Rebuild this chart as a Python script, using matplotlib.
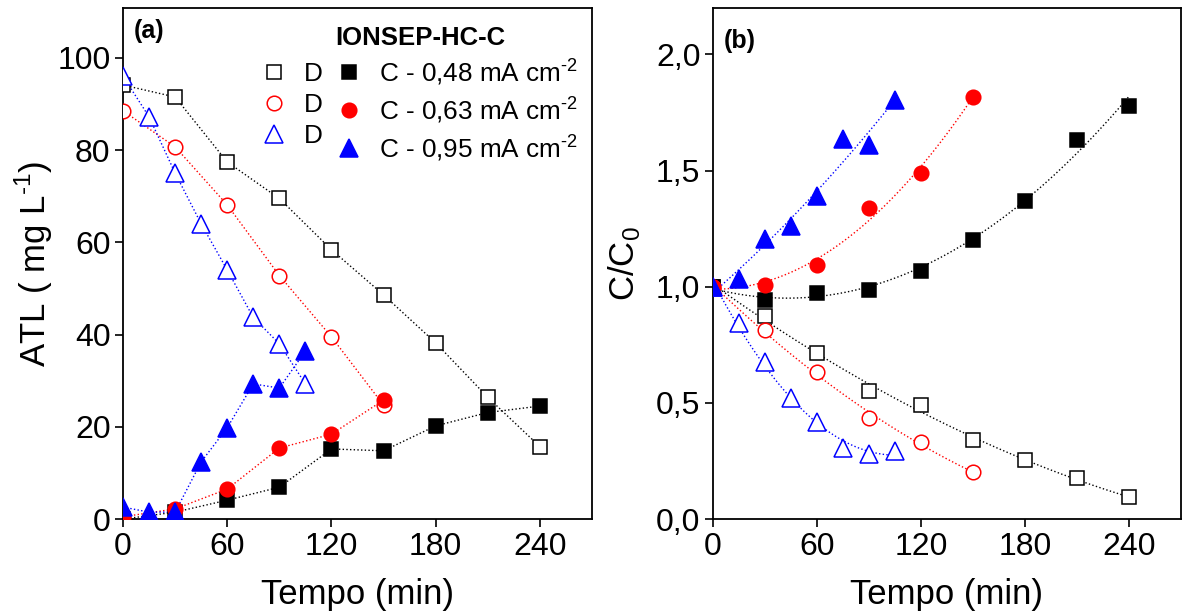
import numpy as np
import matplotlib
matplotlib.use("Agg")
import matplotlib.pyplot as plt
from matplotlib.lines import Line2D

plt.rcParams['font.family'] = ['Liberation Sans', 'DejaVu Sans']
plt.rcParams['mathtext.fontset'] = 'custom'
plt.rcParams['mathtext.rm'] = 'Liberation Sans'

# ---------------- data ----------------
t_048 = [0, 30, 60, 90, 120, 150, 180, 210, 240]
t_063 = [0, 30, 60, 90, 120, 150]
t_095 = [0, 15, 30, 45, 60, 75, 90, 105]

# (a) ATL (mg/L)
atl_D_048 = [94.1, 91.5, 77.4, 69.5, 58.4, 48.6, 38.2, 26.4, 15.7]
atl_C_048 = [0.0, 1.5, 4.1, 6.9, 15.2, 14.8, 20.2, 23.1, 24.5]
atl_D_063 = [88.5, 80.7, 68.1, 52.8, 39.5, 24.7]
atl_C_063 = [0.5, 2.2, 6.5, 15.4, 18.4, 25.8]
atl_D_095 = [96.0, 87.2, 75.0, 64.0, 54.0, 43.7, 38.0, 29.3]
atl_C_095 = [2.6, 1.5, 1.5, 12.4, 19.8, 29.3, 28.4, 36.4]

# (b) C/C0
cc_D_048 = [1.0, 0.875, 0.716, 0.552, 0.49, 0.34, 0.254, 0.175, 0.094]
cc_C_048 = [1.0, 0.943, 0.975, 0.986, 1.069, 1.202, 1.37, 1.633, 1.78]
cc_D_063 = [1.0, 0.813, 0.635, 0.434, 0.331, 0.203]
cc_C_063 = [1.0, 1.008, 1.093, 1.338, 1.491, 1.818]
cc_D_095 = [1.0, 0.846, 0.675, 0.522, 0.418, 0.308, 0.282, 0.294]
cc_C_095 = [1.0, 1.033, 1.205, 1.261, 1.39, 1.637, 1.611, 1.806]

legend_title = "IONSEP-HC-C"
legend_D = "D"
legend_C = ["C - 0,48 mA cm$^{\\text{-}2}$", "C - 0,63 mA cm$^{\\text{-}2}$", "C - 0,95 mA cm$^{\\text{-}2}$"]

xticks = [0, 60, 120, 180, 240]
yticks_a = [0, 20, 40, 60, 80, 100]
yticks_b = [0.0, 0.5, 1.0, 1.5, 2.0]
yticklabels_b = ["0,0", "0,5", "1,0", "1,5", "2,0"]

colors = ['black', 'red', 'blue']
markers = ['s', 'o', '^']
msizes = [9.5, 10.5, 12.5]

fig = plt.figure(figsize=(11.83, 6.15), dpi=100)
axa = fig.add_axes([0.104, 0.156, 0.3964, 0.831])
axb = fig.add_axes([0.6027, 0.156, 0.3953, 0.831])

# ---------- panel (a) ----------
series_a = [(t_048, atl_D_048, atl_C_048), (t_063, atl_D_063, atl_C_063), (t_095, atl_D_095, atl_C_095)]
for (t, d, c), col, mk, ms in zip(series_a, colors, markers, msizes):
    axa.plot(t, d, ls=':', lw=1.0, color=col, zorder=1)
    axa.plot(t, c, ls=':', lw=1.0, color=col, zorder=1)
    axa.plot(t, d, ls='none', marker=mk, ms=ms, mfc='white', mec=col, mew=1.1, zorder=3)
    axa.plot(t, c, ls='none', marker=mk, ms=ms, mfc=col, mec=col, mew=1.1, zorder=3)

axa.set_xlim(0, 270)
axa.set_ylim(0, 110.8)
axa.set_xticks(xticks)
axa.set_yticks(yticks_a)
axa.set_xlabel("Tempo (min)", fontsize=25, labelpad=12)
axa.set_ylabel("ATL ( mg L$^{\\text{-}1}$)", fontsize=25, labelpad=2)
axa.text(0.022, 0.978, "(a)", transform=axa.transAxes, fontsize=18, fontweight='bold', va='top', ha='left')

# legend
handles = []
labels = []
for col, mk, ms in zip(colors, markers, msizes):
    handles.append(Line2D([], [], ls='none', marker=mk, ms=ms, mfc='white', mec=col, mew=1.1))
    labels.append(legend_D)
for col, mk, ms in zip(colors, markers, msizes):
    handles.append(Line2D([], [], ls='none', marker=mk, ms=ms, mfc=col, mec=col, mew=1.1))
for lab in legend_C:
    labels.append(lab)
leg = axa.legend(handles, labels, ncol=2, loc='upper right', bbox_to_anchor=(1.012, 1.004),
                 frameon=False, fontsize=18.8, title=legend_title,
                 title_fontproperties={'weight': 'bold', 'size': 18.5},
                 handlelength=0.8, handletextpad=0.75, columnspacing=0.6, labelspacing=0.26,
                 borderpad=0.25)

# ---------- panel (b) ----------
series_b = [(t_048, cc_D_048, cc_C_048), (t_063, cc_D_063, cc_C_063), (t_095, cc_D_095, cc_C_095)]
for (t, d, c), col, mk, ms in zip(series_b, colors, markers, msizes):
    t_arr = np.asarray(t, dtype=float)
    tt = np.linspace(t_arr.min(), t_arr.max(), 200)
    for y in (d, c):
        p = np.polyfit(t_arr, np.asarray(y), 2)
        axb.plot(tt, np.polyval(p, tt), ls=':', lw=1.0, color=col, zorder=1)
    axb.plot(t, d, ls='none', marker=mk, ms=ms, mfc='white', mec=col, mew=1.1, zorder=3)
    axb.plot(t, c, ls='none', marker=mk, ms=ms, mfc=col, mec=col, mew=1.1, zorder=3)

axb.set_xlim(0, 270)
axb.set_ylim(0, 2.2)
axb.set_xticks(xticks)
axb.set_yticks(yticks_b)
axb.set_yticklabels(yticklabels_b)
axb.set_xlabel("Tempo (min)", fontsize=25, labelpad=12)
axb.set_ylabel("C/C$_0$", fontsize=25, labelpad=10)
axb.text(0.022, 0.958, "(b)", transform=axb.transAxes, fontsize=18, fontweight='bold', va='top', ha='left')

for ax in (axa, axb):
    ax.tick_params(direction='out', length=6, width=1.2, labelsize=23, pad=3)
    for s in ax.spines.values():
        s.set_linewidth(1.3)

fig.savefig("out.png", dpi=100)
